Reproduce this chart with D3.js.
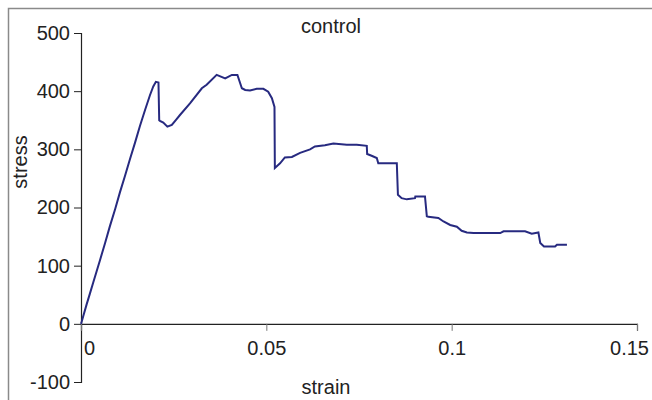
<!DOCTYPE html>
<html>
<head>
<meta charset="utf-8">
<script src="https://cdn.jsdelivr.net/npm/d3@7"></script>
<style>
  body { margin: 0; background: #fff; }
  text { font-family: "Liberation Sans", Arial, sans-serif; fill: #222; }
</style>
</head>
<body>
<div id="chart"></div>
<script>
// strain / stress readings
var strain = [0, 0.0002, 0.0006, 0.0015, 0.0024, 0.0033, 0.0042, 0.0051, 0.0065, 0.0078,
  0.0092, 0.0105, 0.0119, 0.0132, 0.0146, 0.0159, 0.0173, 0.0186, 0.0195, 0.0202,
  0.0209, 0.0211, 0.0213, 0.0222, 0.0233, 0.0245, 0.0258, 0.0267, 0.0294, 0.0326,
  0.0339, 0.0366, 0.0389, 0.0407, 0.0422, 0.0434, 0.0443, 0.0456, 0.0474, 0.0492,
  0.0505, 0.0515, 0.0522, 0.0523, 0.0537, 0.0550, 0.0569, 0.0591, 0.0618, 0.0631,
  0.0658, 0.0681, 0.0717, 0.0744, 0.0771, 0.0772, 0.0784, 0.0798, 0.0802, 0.0852,
  0.0855, 0.0865, 0.0879, 0.0901, 0.0902, 0.0928, 0.0933, 0.0937, 0.0964, 0.0978,
  0.0996, 0.1014, 0.1027, 0.1041, 0.1059, 0.1131, 0.1140, 0.1198, 0.1216, 0.1234,
  0.1239, 0.1249, 0.1279, 0.1284, 0.1311];
var stress = [0, 4, 13, 33, 52, 71, 90, 109, 139, 168,
  197, 226, 255, 283, 312, 340, 368, 393, 408, 416,
  415, 350, 349, 346, 339, 342, 352, 359, 379, 405,
  411, 428, 422, 428, 428, 405, 402, 401, 404, 404,
  399, 388, 373, 268, 276, 286, 287, 294, 300, 305,
  307, 310, 308, 308, 306, 292, 289, 285, 276, 276,
  222, 216, 214, 216, 219, 219, 185, 184, 182, 176,
  170, 167, 160, 157, 156, 156, 159, 159, 155, 157,
  139, 133, 133, 136, 136];

var xTicks = [0, 0.05, 0.1, 0.15];
var yTicks = [-100, 0, 100, 200, 300, 400, 500];

var W = 652, H = 400;
var svg = d3.select("#chart").append("svg")
    .attr("width", W)
    .attr("height", H);

// outer frame
svg.append("rect")
    .attr("x", 8.5).attr("y", 8.5)
    .attr("width", W + 10).attr("height", H + 10)
    .attr("fill", "none")
    .attr("stroke", "#8a8a8a")
    .attr("stroke-width", 1.5);

var x = d3.scaleLinear().domain([0, 0.15]).range([81, 637]);
var y = d3.scaleLinear().domain([-100, 500]).range([382, 33]);

// y axis
var yAxis = svg.append("g")
    .attr("transform", "translate(" + x(0) + ",0)")
    .call(d3.axisLeft(y).tickValues(yTicks).tickSize(7).tickPadding(4)
      .tickFormat(function(d) { return String(d); }));
yAxis.select(".domain").attr("stroke", "#222").attr("stroke-width", 1.2);
yAxis.selectAll(".tick line").attr("stroke", "#222");
yAxis.selectAll("text").style("font-size", "20px").attr("fill", "#222");

// x axis at y = 0
var xAxis = svg.append("g")
    .attr("transform", "translate(0," + y(0) + ")")
    .call(d3.axisBottom(x).tickValues(xTicks).tickSize(7).tickPadding(10)
      .tickFormat(function(d) { return String(d); }));
xAxis.select(".domain").attr("stroke", "#222").attr("stroke-width", 1.2);
xAxis.selectAll(".tick line").attr("stroke", "#777");
xAxis.selectAll("text").style("font-size", "20px").attr("fill", "#222")
    .attr("dx", function(d, i) { return i === 0 ? 8 : (i === xTicks.length - 1 ? -8 : 0); });

// curve
var line = d3.line()
    .x(function(d, i) { return x(strain[i]); })
    .y(function(d, i) { return y(stress[i]); });

svg.append("path")
    .datum(stress)
    .attr("d", line)
    .attr("fill", "none")
    .attr("stroke", "#272a80")
    .attr("stroke-width", 2);

// titles
svg.append("text")
    .attr("x", 331).attr("y", 33)
    .attr("text-anchor", "middle")
    .style("font-size", "20px")
    .text("control");

svg.append("text")
    .attr("x", 326).attr("y", 394)
    .attr("text-anchor", "middle")
    .style("font-size", "20px")
    .text("strain");

svg.append("text")
    .attr("transform", "translate(27,162) rotate(-90)")
    .attr("text-anchor", "middle")
    .style("font-size", "20px")
    .text("stress");
</script>
</body>
</html>
